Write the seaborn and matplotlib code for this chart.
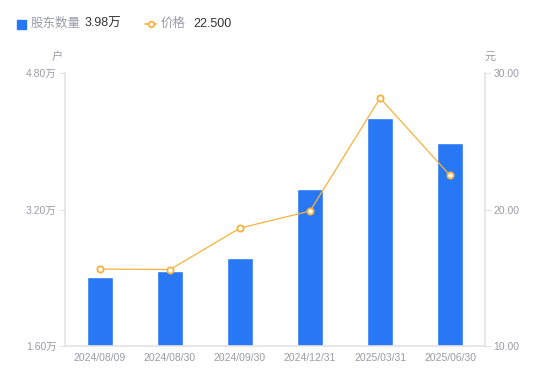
import numpy as np
import pandas as pd
import matplotlib
matplotlib.use("Agg")
import matplotlib.pyplot as plt
import seaborn as sns
from matplotlib.lines import Line2D
from matplotlib.patches import Rectangle

# data
dates = ["2024/08/09", "2024/08/30", "2024/09/30", "2024/12/31", "2025/03/31", "2025/06/30"]
holders = [2.41, 2.48, 2.63, 3.44, 4.27, 3.98]   # 万户
prices = [15.64, 15.60, 18.64, 19.89, 28.17, 22.50]  # 元
left_ticks = [1.6, 3.2, 4.8]
right_ticks = [10, 20, 30]

sns.set_theme(style="white")
plt.rcParams['font.family'] = ['Liberation Sans', 'Noto Sans CJK SC']

blue = "#2878f5"
orange = "#f6b23c"
grey = "#9a9aa8"
axis_c = "#e3e3e8"

df = pd.DataFrame({"date": dates, "holders": holders, "price": prices})

fig = plt.figure(figsize=(5.5, 3.81), dpi=100)
ax = fig.add_axes([0.118, 0.092, 0.764, 0.716])
sns.barplot(data=df, x="date", y="holders", color=blue, width=0.36,
            saturation=1, ax=ax)
ax.set_ylim(1.6, 4.8)
ax.set_xlim(-0.5, 5.5)
ax.set_yticks(left_ticks)
ax.set_yticklabels([f"{v:.2f}万" for v in left_ticks])
ax.set_xlabel("")
ax.set_ylabel("")

ax2 = ax.twinx()
ax2.plot(np.arange(len(dates)), df["price"], color=orange, lw=0.9,
         marker="o", ms=4.5, mfc="white", mec=orange, mew=1.3, zorder=5)
ax2.set_ylim(10, 30)
ax2.set_yticks(right_ticks)
ax2.set_yticklabels([f"{v:.2f}" for v in right_ticks])

for a in (ax, ax2):
    for s in a.spines.values():
        s.set_visible(False)
    a.grid(False)
ax.spines['left'].set_visible(True)
ax.spines['left'].set_color(axis_c)
ax.spines['bottom'].set_visible(True)
ax.spines['bottom'].set_color(axis_c)
ax2.spines['right'].set_visible(True)
ax2.spines['right'].set_color(axis_c)

ax.tick_params(axis='y', colors=axis_c, labelcolor=grey, labelsize=7.5,
               length=4, width=0.8, direction='out', left=True, pad=2)
ax.tick_params(axis='x', labelcolor=grey, labelsize=7.5, length=0, pad=5)
ax2.tick_params(axis='y', colors=axis_c, labelcolor=grey, labelsize=7.5,
                length=4, width=0.8, direction='out', right=True, pad=2)

fig.text(57 / 550, 1 - 57 / 381, "户", color=grey, fontsize=8, ha="center", va="center")
fig.text(490 / 550, 1 - 57 / 381, "元", color=grey, fontsize=8, ha="center", va="center")

# legend header
ly = 1 - 24 / 381
fig.patches.append(Rectangle((17 / 550, ly - 4.5 / 381), 9 / 550, 9 / 381,
                             transform=fig.transFigure, color=blue, figure=fig))
fig.text(31 / 550, ly, "股东数量", color=grey, fontsize=9, va="center")
fig.text(85 / 550, ly, f"{holders[-1]:.2f}万", color="#333333", fontsize=9, va="center")
fig.lines.append(Line2D([145 / 550, 156 / 550], [ly, ly], transform=fig.transFigure,
                        color=orange, lw=1.2, figure=fig))
fig.lines.append(Line2D([150.5 / 550], [ly], transform=fig.transFigure, color=orange,
                        marker="o", ms=4, mfc="white", mew=1.3, figure=fig))
fig.text(161 / 550, ly, "价格", color=grey, fontsize=9, va="center")
fig.text(193 / 550, ly, f"{prices[-1]:.3f}", color="#333333", fontsize=9, va="center")

fig.savefig("out.png", dpi=100)
